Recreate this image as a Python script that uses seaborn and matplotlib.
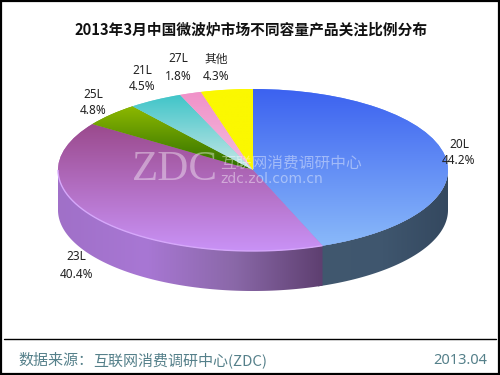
import numpy as np
import matplotlib
matplotlib.use("Agg")
import matplotlib.pyplot as plt
from matplotlib.patches import Polygon, Rectangle
import seaborn as sns

title = "2013年3月中国微波炉市场不同容量产品关注比例分布"
categories = ["20L", "23L", "25L", "21L", "27L", "其他"]
values = [44.2, 40.4, 4.8, 4.5, 1.8, 4.3]
value_labels = ["44.2%", "40.4%", "4.8%", "4.5%", "1.8%", "4.3%"]
source_head = "数据来源："
source_body = "互联网消费调研中心(ZDC)"
date = "2013.04"

sns.set_theme(style="white")
FONTS = ["Noto Sans", "Noto Sans CJK SC", "DejaVu Sans"]
plt.rcParams["font.family"] = FONTS

W, H = 500, 375
CX, CY, RX, RY, DEPTH = 253, 170, 195, 81, 40
fig = plt.figure(figsize=(5, 3.75), dpi=100, facecolor="white")
ax = fig.add_axes([0, 0, 1, 1])
wedges, _ = ax.pie(values, startangle=90, counterclock=False, radius=1,
                   wedgeprops=dict(linewidth=0))
lims = ((0 - CX) / RX, (W - CX) / RX), ((CY - H) / RY, CY / RY)

top_grad = [
    (["#3c62f0", "#8cbcfa"], (1, -1)),
    (["#8e3670", "#c992f6"], (1, -1)),
    (["#9cc400", "#2f6f00"], (0.9, 0.02)),
    (["#34c2c6", "#c4e6e6"], (1, 0.02)),
    (["#f090c8", "#f4b8dc"], (1, 0.1)),
    (["#fbf800", "#fbf800"], (1, 0)),
]
for w, (cols, (y0, y1)) in zip(wedges, top_grad):
    cmap = sns.blend_palette(cols, 64, as_cmap=True)
    w.set_facecolor(cmap(0.5))
    w.set_zorder(2.5)
    g = np.linspace(0, 1, 128)[:, None]
    im = ax.imshow(g, cmap=cmap, extent=(-1.02, 1.02, y1, y0), origin="upper",
                   aspect="auto", interpolation="bilinear", zorder=3)
    im.set_clip_path(w)

# cylinder side, built from the same shares
d = DEPTH / RY
bounds = 90 - np.cumsum([0] + values) * 3.6
side_grad = [
    ["#34485f", "#3f566e", "#41586f"],
    ["#5e3f70", "#8a68a8", "#a877d4", "#a070c8"],
]
for i, cols in enumerate(side_grad):
    a0, a1 = bounds[i], bounds[i + 1]
    lo_a = max(a1, -180) - (1.5 if i == 0 else 0)
    t = np.radians(np.linspace(lo_a, min(a0, 0), 200))
    xs, ys = np.cos(t), np.sin(t)
    poly = Polygon(np.r_[np.c_[xs, ys], np.c_[xs, ys - d][::-1]], closed=True,
                   fc="none", ec="none", transform=ax.transData)
    ax.add_patch(poly)
    g = np.linspace(0, 1, 256)[None, :]
    cmap = sns.blend_palette(cols[::-1], 64, as_cmap=True)
    im = ax.imshow(g, cmap=cmap, extent=(xs.min(), xs.max(), -1 - d, 0.02), aspect="auto",
                   interpolation="bilinear", zorder=2)
    im.set_clip_path(poly)

# light rim along the front edge of the 23L slice
t = np.radians(np.linspace(bounds[2] if bounds[2] > -180 else -180, bounds[1], 200))
t = t[t <= 0] if bounds[1] <= 0 else t
rim = t[np.sin(t) < 0]
ax.plot(np.cos(rim), np.sin(rim), color="#d6a8fb", lw=1, zorder=4, solid_capstyle="butt")

ax.set_xlim(*lims[0])
ax.set_ylim(*lims[1])
ax.set_aspect("auto")
ax.axis("off")

# overlay in pixel coordinates for text and frame
ov = fig.add_axes([0, 0, 1, 1], facecolor="none")
ov.set_xlim(0, W)
ov.set_ylim(H, 0)
ov.axis("off")
ov.add_patch(Rectangle((1, 1), W - 2, H - 2, fc="none", ec="black", lw=1.6))
ov.plot([4, 496], [338.5, 338.5], color="black", lw=1)

ov.text(251, 29, title, ha="center", va="center", fontsize=10.6,
        fontweight="bold", color="#111111", family=["Noto Sans CJK SC", "DejaVu Sans"])

label_pos = [(459, 144), (76, 257), (93, 94), (142, 70), (178, 59), (216, 59)]
for (x, y), c, v in zip(label_pos, categories, value_labels):
    ov.text(x, y, c, ha="center", va="center", fontsize=8.5, color="#222222")
    ov.text(x, y + 17, v, ha="center", va="center", fontsize=8.5, color="#222222")

ov.text(132, 170, "ZDC", ha="left", va="center", fontsize=31, color="white",
        alpha=0.4, family="Liberation Serif")
ov.text(220, 163, "互联网消费调研中心", ha="left", va="center", fontsize=11.3, color="white",
        alpha=0.42, family="Noto Sans CJK SC")
ov.text(220, 179, "zdc.zol.com.cn", ha="left", va="center", fontsize=10, color="white",
        alpha=0.42, family="DejaVu Sans")

ov.text(18, 365, source_head, ha="left", va="baseline", fontsize=10.8, color="#55808a",
        family=["Noto Sans CJK SC", "DejaVu Sans"], fontweight="light")
ov.text(93, 365, source_body, ha="left", va="baseline", fontsize=10.8, color="#55808a",
        family=["Noto Sans CJK SC", "DejaVu Sans"], fontweight="light")
ov.text(487, 364, date, ha="right", va="baseline", fontsize=10.5, color="#55808a",
        family="Noto Sans", fontweight="light")

fig.savefig("out.png", dpi=100)
